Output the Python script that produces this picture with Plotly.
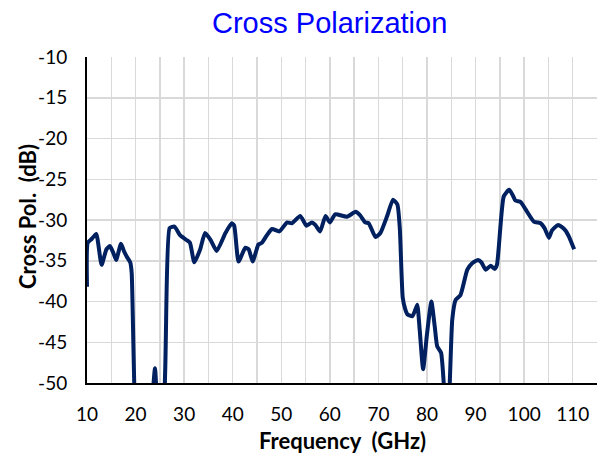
import plotly.graph_objects as go

# Frequency (GHz) and cross-polarization (dB)
freq = [10.0, 10.15, 11.0, 11.9, 13.0, 14.0, 14.7, 15.4, 16.0, 17.0, 17.6, 18.2, 18.9,
        19.2, 20.1, 21.5, 23.3, 24.0, 24.7, 25.6, 27.0, 28.0, 29.2, 30.6, 31.2, 32.1,
        33.3, 34.3, 35.4, 36.7, 38.5, 39.8, 40.3, 41.2, 42.6, 43.3, 44.1, 45.3, 46.0,
        47.0, 48.1, 49.6, 51.2, 52.2, 53.9, 55.2, 56.3, 57.0, 58.0, 59.1, 60.0, 61.1,
        63.5, 65.3, 66.2, 67.3, 68.0, 69.4, 70.4, 71.8, 73.0, 73.9, 74.4, 75.0, 75.5,
        76.0, 77.0, 77.6, 78.0, 78.5, 79.2, 80.0, 80.9, 81.6, 82.1, 82.9, 83.5, 84.0,
        84.6, 85.2, 85.9, 86.9, 88.3, 89.3, 90.5, 91.2, 92.1, 93.1, 93.9, 94.4, 95.8,
        96.9, 97.6, 98.2, 99.3, 100.3, 102.0, 103.4, 104.2, 105.1, 105.7, 107.0, 108.4,
        109.2, 110.3]
xpol = [-38.2, -32.8, -32.3, -31.7, -35.5, -33.6, -33.2, -34.0, -34.9, -32.9, -33.8, -34.5, -35.2,
        -36.5, -56.0, -60.0, -53.0, -48.2, -53.0, -53.0, -31.0, -30.8, -31.9, -32.5, -32.8, -35.2,
        -33.6, -31.6, -32.4, -33.8, -31.6, -30.4, -30.7, -35.1, -33.4, -33.6, -35.1, -33.0, -32.8,
        -31.9, -31.1, -31.4, -30.3, -30.4, -29.5, -30.7, -30.3, -30.6, -31.4, -29.5, -30.3, -29.3,
        -29.6, -29.0, -29.4, -30.3, -30.4, -32.1, -31.6, -29.5, -27.5, -28.1, -31.0, -39.5, -40.9,
        -41.6, -41.8, -41.0, -40.4, -43.5, -48.3, -44.0, -40.0, -43.1, -45.5, -46.3, -50.5, -54.0,
        -51.0, -42.2, -39.8, -39.2, -36.1, -35.3, -34.9, -35.2, -36.1, -35.6, -36.0, -35.5, -27.1,
        -26.3, -26.9, -27.6, -27.8, -28.7, -30.2, -30.4, -31.0, -32.2, -31.3, -30.6, -31.2,
        -32.0, -33.6]

x_ticks = list(range(10, 111, 10))
y_ticks = list(range(-50, -9, 5))

fig = go.Figure()
fig.add_trace(go.Scatter(
    x=freq, y=xpol, mode="lines",
    line=dict(color="#002060", width=4, shape="spline", smoothing=0.5),
    showlegend=False, hoverinfo="x+y",
))

grid = "#d9d9d9"
fig.update_layout(
    width=600, height=453,
    margin=dict(l=87, r=3, t=57, b=70, autoexpand=False),
    paper_bgcolor="white", plot_bgcolor="white",
    font=dict(family="Lato", size=19, color="#000000"),
    xaxis=dict(
        range=[10, 115], tickvals=x_ticks, ticktext=[str(v) for v in x_ticks],
        showgrid=True, gridcolor=grid, gridwidth=1.5,
        minor=dict(dtick=5, tick0=10, showgrid=True, gridcolor=grid, gridwidth=1.5),
        showline=True, linecolor="#000000", linewidth=2,
        zeroline=False, ticks="", ticklabelstandoff=13, automargin=False,
        tickfont=dict(family="Lato", size=19, color="#000000"),
        fixedrange=True,
    ),
    yaxis=dict(
        range=[-50, -10], tickvals=y_ticks, ticktext=[str(v) for v in y_ticks],
        showgrid=True, gridcolor=grid, gridwidth=1.5,
        showline=True, linecolor="#000000", linewidth=2,
        zeroline=False, ticks="", ticklabelstandoff=14, automargin=False,
        tickfont=dict(family="Lato", size=19, color="#000000"),
        fixedrange=True,
    ),
    annotations=[
        dict(text="Cross Polarization", xref="paper", yref="paper",
             x=(329 - 87) / 510, y=1 + (57 - 23) / 326, xanchor="center", yanchor="middle",
             showarrow=False, font=dict(family="Liberation Sans, Arial", size=29, color="#0000FF")),
        dict(text="<b>Frequency\u00a0 (GHz)</b>", xref="paper", yref="paper",
             x=0.5, y=(383 - 440) / 326, xanchor="center", yanchor="middle",
             showarrow=False, font=dict(family="Lato", size=22, color="#000000")),
        dict(text="<b>Cross Pol.\u00a0 (dB)</b>", xref="paper", yref="paper",
             x=(27 - 87) / 510, y=(383 - 217) / 326, xanchor="center", yanchor="middle",
             textangle=-90, showarrow=False, font=dict(family="Lato", size=22, color="#000000")),
    ],
)

fig.write_html(
    "out.html",
    config={"displayModeBar": False, "staticPlot": True},
    post_script="document.body.style.margin='0';document.body.style.overflow='hidden';",
)
